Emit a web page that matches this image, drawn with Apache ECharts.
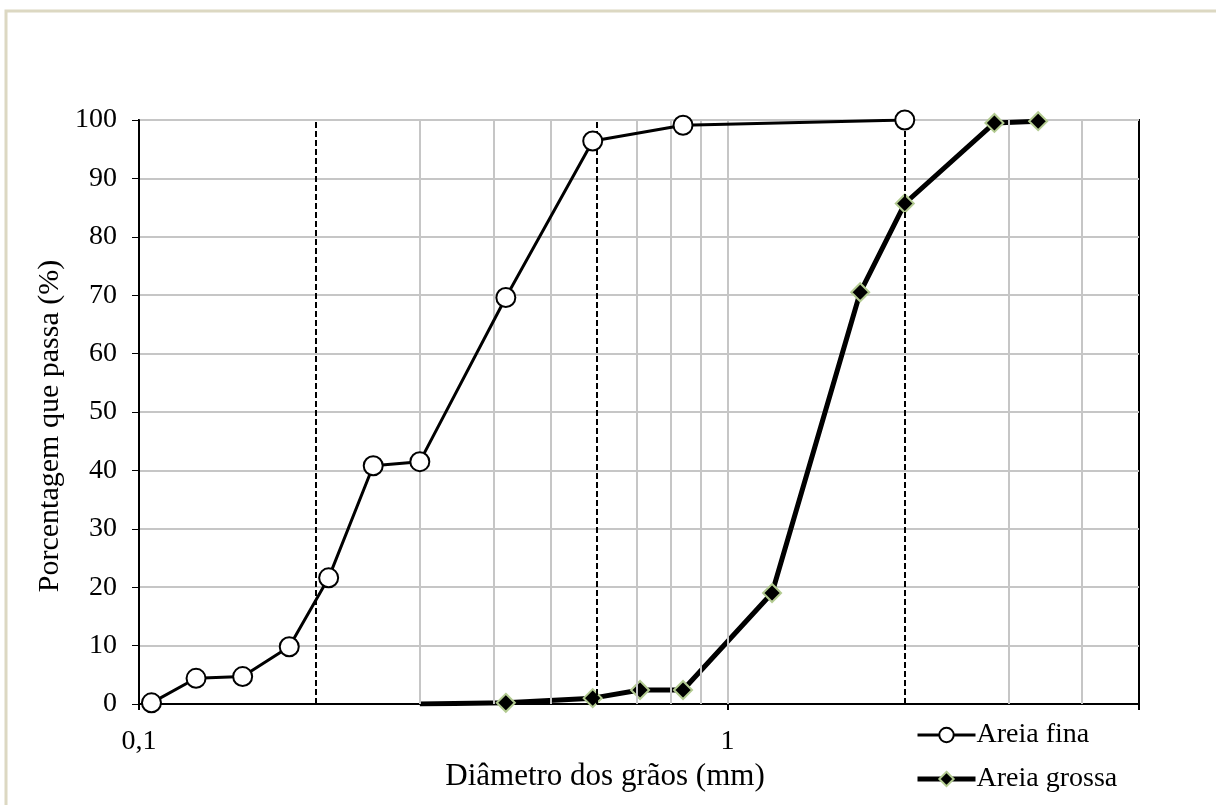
<!DOCTYPE html>
<html>
<head>
<meta charset="utf-8">
<script src="https://cdn.jsdelivr.net/npm/echarts@6/dist/echarts.min.js"></script>
<style>
  html, body { margin: 0; padding: 0; background: #ffffff; }
  #chart { width: 1216px; height: 805px; }
</style>
</head>
<body>
<div id="chart"></div>
<script>
// Grain-size distribution curves (log scale diameter vs. percent passing)
const fineDiameter = [0.105, 0.125, 0.15, 0.18, 0.21, 0.25, 0.3, 0.42, 0.59, 0.84, 2.0];
const finePassing  = [0.2, 4.4, 4.7, 9.8, 21.6, 40.8, 41.5, 69.6, 96.4, 99.1, 100];

const coarseDiameter = [0.3, 0.42, 0.59, 0.71, 0.84, 1.19, 1.68, 2.0, 2.84, 3.37];
const coarsePassing  = [0, 0.2, 1.0, 2.4, 2.4, 19.0, 70.5, 85.7, 99.5, 99.8];

const seriesNames = ['Areia fina', 'Areia grossa'];
const xAxisTitle = 'Diâmetro dos grãos (mm)';
const yAxisTitle = 'Porcentagem que passa (%)';

// Vertical reference lines
const minorGridX = [0.3, 0.4, 0.5, 0.7, 0.8, 0.9, 1, 3, 4];
const dashedX = [0.2, 0.6, 2];

const FONT = '"Liberation Serif", "DejaVu Serif", serif';

const fineData = fineDiameter.map((d, i) => [d, finePassing[i]]);
const coarseData = coarseDiameter.map((d, i) => {
  const item = { value: [d, coarsePassing[i]] };
  if (i === 0) item.symbol = 'none';
  return item;
});

const fineLine = { color: '#000', width: 3 };
const fineItem = { color: '#ffffff', borderColor: '#000', borderWidth: 2 };
const coarseLine = { color: '#000', width: 5 };
const coarseItem = { color: '#000', borderColor: '#b3cb91', borderWidth: 2 };

const chart = echarts.init(document.getElementById('chart'), null, { renderer: 'canvas' });

chart.setOption({
  animation: false,
  backgroundColor: '#ffffff',
  graphic: [
    {
      type: 'rect',
      shape: { x: 6, y: 11, width: 1300, height: 900 },
      style: { fill: 'none', stroke: '#dcd8c2', lineWidth: 3 },
      silent: true,
      z: -10
    },
    {
      // vertical axis title
      type: 'text',
      x: 50, y: 426,
      rotation: Math.PI / 2,
      style: {
        text: yAxisTitle,
        fontFamily: FONT, fontSize: 30, fill: '#000',
        align: 'center', verticalAlign: 'middle'
      },
      silent: true
    }
  ],
  grid: {
    left: 139, right: 77, top: 120, bottom: 101,
    containLabel: false,
    outerBoundsMode: 'none',
    show: true, borderColor: '#000000', borderWidth: 2,
    backgroundColor: 'transparent'
  },
  legend: {
    orient: 'vertical',
    left: 910, top: 716,
    itemWidth: 58, itemHeight: 18,
    itemGap: 16,
    textStyle: { fontFamily: FONT, fontSize: 28, color: '#000', padding: [0, 0, 0, -4] },
    data: [
      { name: seriesNames[0], lineStyle: fineLine, itemStyle: fineItem },
      { name: seriesNames[1], lineStyle: coarseLine, itemStyle: coarseItem }
    ]
  },
  xAxis: {
    type: 'log',
    logBase: 10,
    min: 0.1, max: 5,
    name: xAxisTitle,
    nameLocation: 'middle',
    nameGap: 56,
    nameTextStyle: { fontFamily: FONT, fontSize: 31, color: '#000', padding: [0, 68, 0, 0] },
    axisLine: { show: true, onZero: false, lineStyle: { color: '#000', width: 2 } },
    axisTick: { show: true, length: 6, lineStyle: { color: '#000', width: 2 } },
    axisLabel: {
      fontFamily: FONT, fontSize: 28, color: '#000', margin: 24,
      formatter: function (v) {
        const r = Math.round(v * 1000) / 1000;
        if (r === 0.1 || r === 1) return String(r).replace('.', ',');
        return '';
      }
    },
    splitLine: { show: false },
    minorTick: { show: false },
    minorSplitLine: { show: false }
  },
  yAxis: {
    type: 'value',
    min: 0, max: 100, interval: 10,
    axisLine: { show: true, lineStyle: { color: '#000', width: 2 } },
    axisTick: { show: true, length: 7, lineStyle: { color: '#000', width: 1 } },
    axisLabel: { fontFamily: FONT, fontSize: 28, color: '#000', margin: 22 },
    splitLine: { show: true, lineStyle: { color: '#c6c6c6', width: 2 } }
  },
  series: [
    {
      // carrier for the vertical grid lines
      type: 'line',
      data: [],
      silent: true,
      z: 1,
      markLine: {
        silent: true,
        symbol: ['none', 'none'],
        label: { show: false },
        animation: false,
        data: minorGridX.map(v => ({ xAxis: v, lineStyle: { color: '#c6c6c6', width: 2, type: 'solid' } }))
          .concat(dashedX.map(v => ({ xAxis: v, lineStyle: { color: '#000', width: 2, type: [6, 3] } })))
      }
    },
    {
      name: seriesNames[0],
      type: 'line',
      data: fineData,
      z: 5,
      symbol: 'circle',
      symbolSize: 19,
      lineStyle: fineLine,
      itemStyle: fineItem
    },
    {
      name: seriesNames[1],
      type: 'line',
      data: coarseData,
      z: 4,
      symbol: 'diamond',
      symbolSize: 18,
      lineStyle: coarseLine,
      itemStyle: coarseItem
    }
  ]
});
</script>
</body>
</html>
